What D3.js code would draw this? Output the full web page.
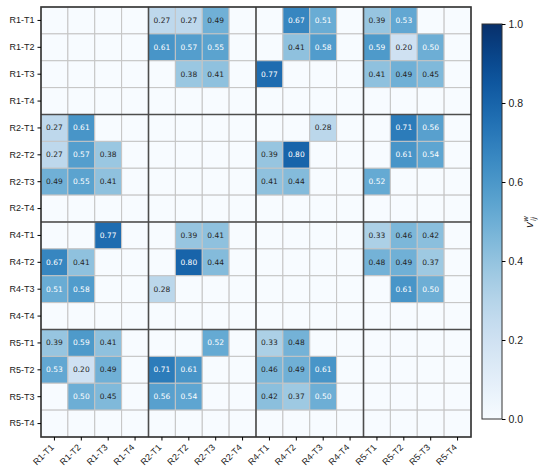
<!DOCTYPE html>
<html>
<head>
<meta charset="utf-8">
<script src="https://cdn.jsdelivr.net/npm/d3@7"></script>
<style>
  body { margin: 0; background: #fff; }
  svg { font-family: "DejaVu Sans", sans-serif; }
</style>
</head>
<body>
<div id="chart"></div>
<script>
// labels for rows and columns
var labels = ["R1-T1", "R1-T2", "R1-T3", "R1-T4",
              "R2-T1", "R2-T2", "R2-T3", "R2-T4",
              "R4-T1", "R4-T2", "R4-T3", "R4-T4",
              "R5-T1", "R5-T2", "R5-T3", "R5-T4"];

// null = no value (empty cell)
var rowR1T1 = [null, null, null, null, 0.27, 0.27, 0.49, null, null, 0.67, 0.51, null, 0.39, 0.53, null, null];
var rowR1T2 = [null, null, null, null, 0.61, 0.57, 0.55, null, null, 0.41, 0.58, null, 0.59, 0.20, 0.50, null];
var rowR1T3 = [null, null, null, null, null, 0.38, 0.41, null, 0.77, null, null, null, 0.41, 0.49, 0.45, null];
var rowR1T4 = [null, null, null, null, null, null, null, null, null, null, null, null, null, null, null, null];
var rowR2T1 = [0.27, 0.61, null, null, null, null, null, null, null, null, 0.28, null, null, 0.71, 0.56, null];
var rowR2T2 = [0.27, 0.57, 0.38, null, null, null, null, null, 0.39, 0.80, null, null, null, 0.61, 0.54, null];
var rowR2T3 = [0.49, 0.55, 0.41, null, null, null, null, null, 0.41, 0.44, null, null, 0.52, null, null, null];
var rowR2T4 = [null, null, null, null, null, null, null, null, null, null, null, null, null, null, null, null];
var rowR4T1 = [null, null, 0.77, null, null, 0.39, 0.41, null, null, null, null, null, 0.33, 0.46, 0.42, null];
var rowR4T2 = [0.67, 0.41, null, null, null, 0.80, 0.44, null, null, null, null, null, 0.48, 0.49, 0.37, null];
var rowR4T3 = [0.51, 0.58, null, null, 0.28, null, null, null, null, null, null, null, null, 0.61, 0.50, null];
var rowR4T4 = [null, null, null, null, null, null, null, null, null, null, null, null, null, null, null, null];
var rowR5T1 = [0.39, 0.59, 0.41, null, null, null, 0.52, null, 0.33, 0.48, null, null, null, null, null, null];
var rowR5T2 = [0.53, 0.20, 0.49, null, 0.71, 0.61, null, null, 0.46, 0.49, 0.61, null, null, null, null, null];
var rowR5T3 = [null, 0.50, 0.45, null, 0.56, 0.54, null, null, 0.42, 0.37, 0.50, null, null, null, null, null];
var rowR5T4 = [null, null, null, null, null, null, null, null, null, null, null, null, null, null, null, null];

var matrix = [rowR1T1, rowR1T2, rowR1T3, rowR1T4,
              rowR2T1, rowR2T2, rowR2T3, rowR2T4,
              rowR4T1, rowR4T2, rowR4T3, rowR4T4,
              rowR5T1, rowR5T2, rowR5T3, rowR5T4];

var colorTicks = [0.0, 0.2, 0.4, 0.6, 0.8, 1.0];

var margin = { top: 7, left: 41 };
var size = 430;

var svg = d3.select("#chart")
  .append("svg")
  .attr("width", 550)
  .attr("height", 475);

var g = svg.append("g")
  .attr("transform", "translate(" + margin.left + "," + margin.top + ")");

var xScale = d3.scaleBand().domain(labels).range([0, size]);
var yScale = d3.scaleBand().domain(labels).range([0, size]);
var color = d3.scaleSequential(d3.interpolateBlues).domain([0, 1]);

// flatten to cells
var cells = [];
matrix.forEach(function(row, i) {
  row.forEach(function(v, j) {
    cells.push({ row: labels[i], col: labels[j], value: v });
  });
});

g.selectAll("rect.cell")
  .data(cells)
  .enter()
  .append("rect")
  .attr("class", "cell")
  .attr("x", function(d) { return xScale(d.col); })
  .attr("y", function(d) { return yScale(d.row); })
  .attr("width", xScale.bandwidth())
  .attr("height", yScale.bandwidth())
  .attr("fill", function(d) { return color(d.value == null ? 0 : d.value); })
  .attr("stroke", "#c4c4c4")
  .attr("stroke-width", 1);

g.selectAll("text.val")
  .data(cells.filter(function(d) { return d.value != null; }))
  .enter()
  .append("text")
  .attr("class", "val")
  .attr("x", function(d) { return xScale(d.col) + xScale.bandwidth() / 2; })
  .attr("y", function(d) { return yScale(d.row) + yScale.bandwidth() / 2; })
  .attr("text-anchor", "middle")
  .attr("dominant-baseline", "central")
  .style("font-size", "7.5px")
  .attr("fill", function(d) { return d.value >= 0.5 ? "#ffffff" : "#262626"; })
  .text(function(d) { return d.value.toFixed(2); });

// block separators
var blocks = [4, 8, 12];
g.selectAll("line.vsep")
  .data(blocks)
  .enter()
  .append("line")
  .attr("x1", function(d) { return xScale(labels[d]); })
  .attr("x2", function(d) { return xScale(labels[d]); })
  .attr("y1", 0)
  .attr("y2", size)
  .attr("stroke", "#4d4d4d")
  .attr("stroke-width", 1.6);

g.selectAll("line.hsep")
  .data(blocks)
  .enter()
  .append("line")
  .attr("y1", function(d) { return yScale(labels[d]); })
  .attr("y2", function(d) { return yScale(labels[d]); })
  .attr("x1", 0)
  .attr("x2", size)
  .attr("stroke", "#4d4d4d")
  .attr("stroke-width", 1.6);

g.append("rect")
  .attr("width", size)
  .attr("height", size)
  .attr("fill", "none")
  .attr("stroke", "#333")
  .attr("stroke-width", 1.6);

// axes
var yAxis = d3.axisLeft(yScale).tickSize(3.5).tickPadding(3);
var yg = g.append("g").call(yAxis);
yg.select(".domain").remove();
yg.selectAll("text").style("font-size", "9px").attr("fill", "#1a1a1a");

var xAxis = d3.axisBottom(xScale).tickSize(3.5).tickPadding(3);
var xg = g.append("g")
  .attr("transform", "translate(0," + size + ")")
  .call(xAxis);
xg.select(".domain").remove();
xg.selectAll("text")
  .style("font-size", "9px")
  .attr("fill", "#1a1a1a")
  .attr("text-anchor", "end")
  .attr("dy", null)
  .attr("y", 0)
  .attr("transform", "translate(0,11) rotate(-45)");

// colorbar
var cb = { x: 482, y: 24, w: 20, h: 395 };
var defs = svg.append("defs");
var grad = defs.append("linearGradient")
  .attr("id", "cbgrad")
  .attr("x1", "0%").attr("y1", "100%")
  .attr("x2", "0%").attr("y2", "0%");
d3.range(0, 1.0001, 0.05).forEach(function(t) {
  grad.append("stop")
    .attr("offset", (t * 100) + "%")
    .attr("stop-color", color(t));
});

svg.append("rect")
  .attr("x", cb.x)
  .attr("y", cb.y)
  .attr("width", cb.w)
  .attr("height", cb.h)
  .attr("fill", "url(#cbgrad)")
  .attr("stroke", "#333")
  .attr("stroke-width", 1);

var cScale = d3.scaleLinear().domain([0, 1]).range([cb.y + cb.h, cb.y]);
var cAxis = d3.axisRight(cScale)
  .tickValues(colorTicks)
  .tickFormat(d3.format(".1f"))
  .tickSize(3.5)
  .tickPadding(3);
var cg = svg.append("g")
  .attr("transform", "translate(" + (cb.x + cb.w) + ",0)")
  .call(cAxis);
cg.select(".domain").remove();
cg.selectAll("text").style("font-size", "10.5px").attr("fill", "#1a1a1a");

// colorbar label v_ij^w
var lab = svg.append("text")
  .attr("transform", "translate(533,222) rotate(-90)")
  .attr("text-anchor", "middle")
  .style("font-size", "10.5px")
  .attr("fill", "#1a1a1a");
lab.append("tspan").style("font-style", "italic").text("v");
lab.append("tspan").style("font-style", "italic").style("font-size", "7px").attr("dy", -5).text("w");
lab.append("tspan").style("font-style", "italic").style("font-size", "7px").attr("dx", -5).attr("dy", 8).text("ij");
</script>
</body>
</html>
